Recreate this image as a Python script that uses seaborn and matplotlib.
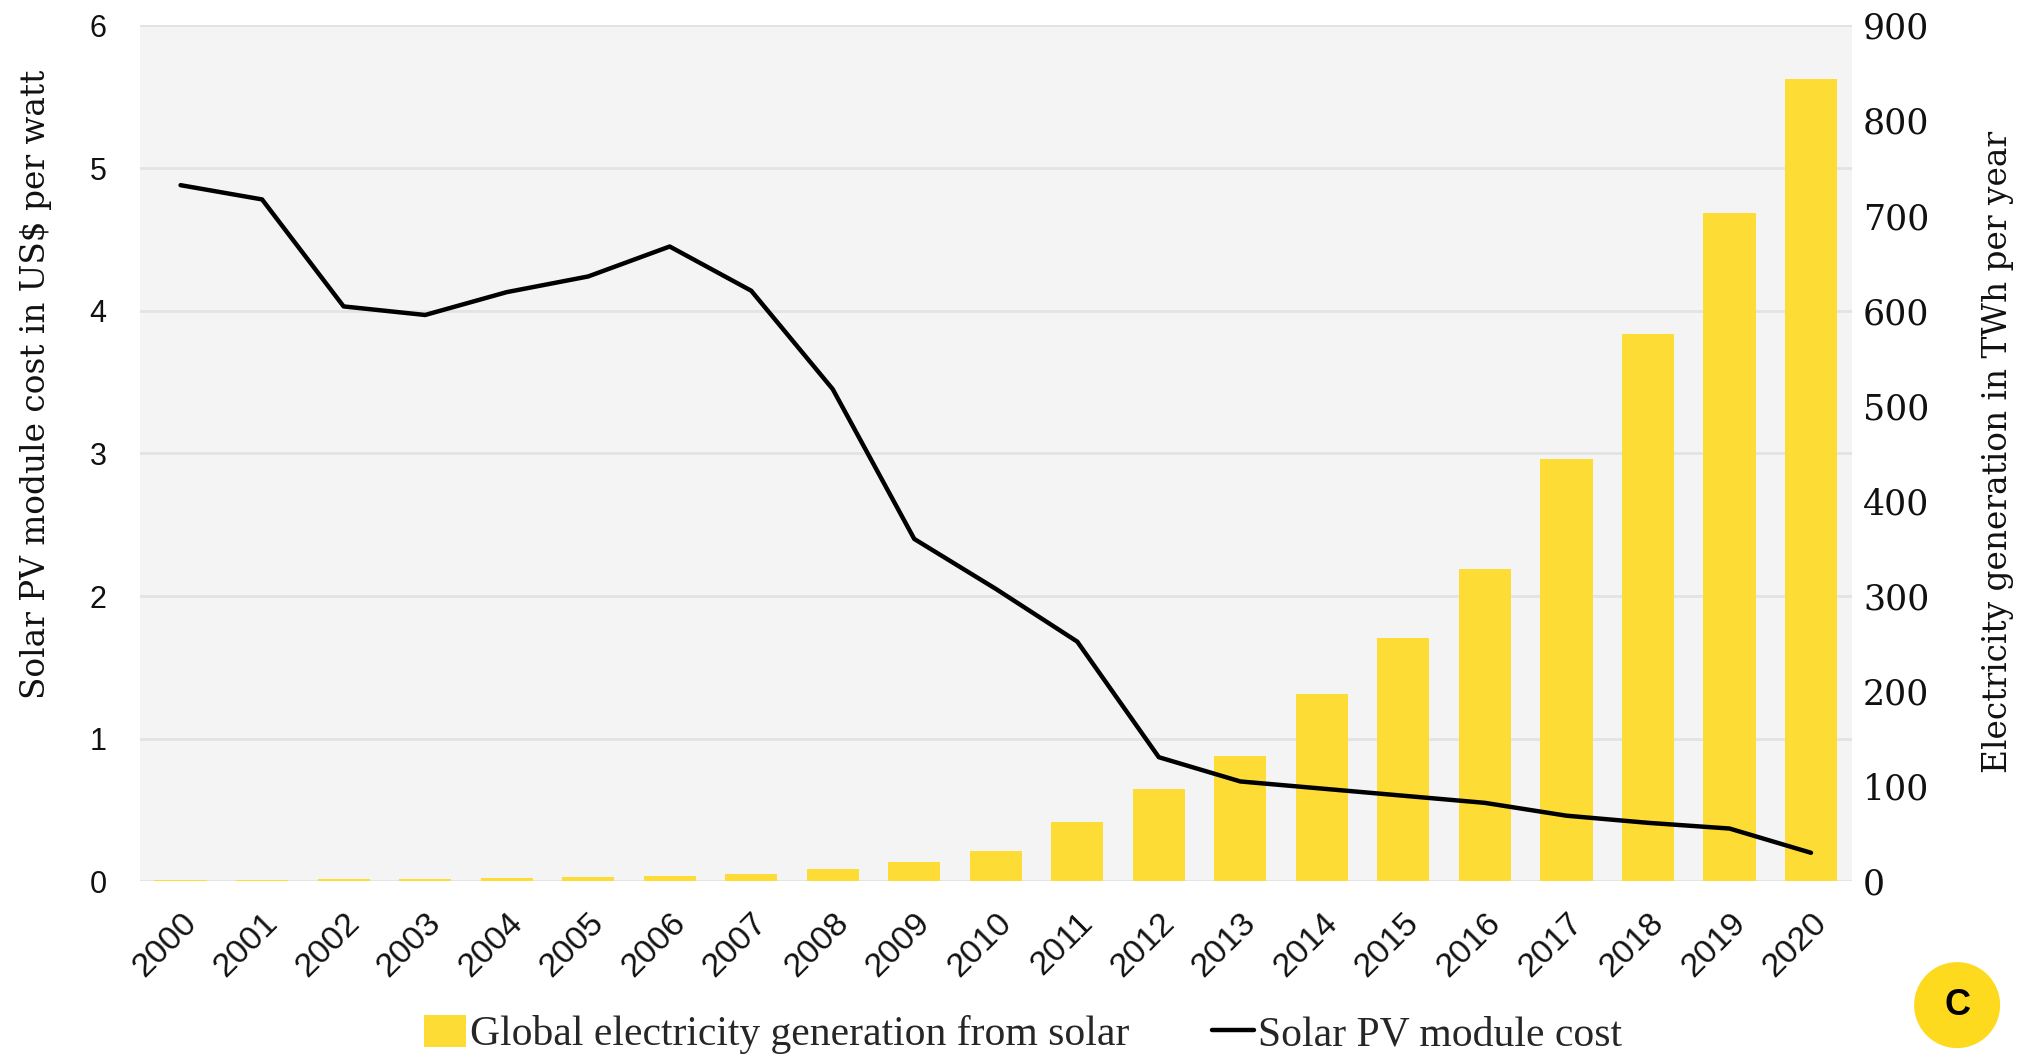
import numpy as np
import pandas as pd
import matplotlib
matplotlib.use("Agg")
import matplotlib.pyplot as plt
import seaborn as sns
from matplotlib.ticker import FixedLocator
from matplotlib.patches import Circle

years = [str(y) for y in range(2000, 2021)]
generation_twh = [1.1, 1.4, 2.0, 2.7, 3.6, 4.7, 6.1, 8.2, 12.6, 20.2, 32.2,
                  62.3, 97.0, 132.0, 197.0, 256.0, 328.0, 444.0, 575.0, 703.0, 844.0]
module_cost = [4.88, 4.78, 4.03, 3.97, 4.13, 4.24, 4.45, 4.14, 3.45, 2.40, 2.05,
               1.68, 0.87, 0.70, 0.65, 0.60, 0.55, 0.46, 0.41, 0.37, 0.20]
cost_ticks = [0, 1, 2, 3, 4, 5, 6]
gen_ticks = [0, 100, 200, 300, 400, 500, 600, 700, 800, 900]
bar_label = "Global electricity generation from solar"
line_label = "Solar PV module cost"
left_ylabel = "Solar PV module cost in US$ per watt"
right_ylabel = "Electricity generation in TWh per year"
badge_text = "C"

BAR_COLOR = "#FDDC35"
BG = "#F4F4F4"
GRID = "#E3E3E3"

df = pd.DataFrame({"year": years, "generation": generation_twh, "cost": module_cost})
df["pos"] = np.arange(len(df))

sns.set_theme(style="white")
plt.rcParams["font.family"] = ["Liberation Sans", "DejaVu Sans"]

fig = plt.figure(figsize=(20.26, 10.58), dpi=100)
ax = fig.add_axes([0.069, 0.167, 0.845, 0.809])
axb = ax.twinx()
ax.set_zorder(axb.get_zorder() + 1)
ax.patch.set_visible(False)
axb.patch.set_visible(True)
axb.set_facecolor(BG)

sns.barplot(data=df, x="year", y="generation", color=BAR_COLOR, saturation=1,
            width=0.64, ax=axb, zorder=2, linewidth=0, edgecolor="none")
sns.lineplot(data=df, x="pos", y="cost", color="black", linewidth=3.2, ax=ax,
             legend=False)

ax.set_xlim(-0.5, len(years) - 0.5)
ax.set_ylim(cost_ticks[0], cost_ticks[-1])
axb.set_ylim(gen_ticks[0], gen_ticks[-1])
ax.set_xticks(np.arange(len(years)))
ax.set_xticklabels(years, rotation=45, ha="right", rotation_mode="anchor")
ax.set_yticks(cost_ticks)
axb.set_yticks(gen_ticks)

# grid lines follow the left axis, drawn behind the bars
axb.yaxis.remove_overlapping_locs = False
scale = (gen_ticks[-1] - gen_ticks[0]) / (cost_ticks[-1] - cost_ticks[0])
axb.yaxis.set_minor_locator(FixedLocator([c * scale for c in cost_ticks]))
axb.set_axisbelow(True)
axb.grid(False, which="major")
axb.grid(True, which="minor", axis="y", color=GRID, linewidth=2)
ax.grid(False)

for s in list(ax.spines.values()) + list(axb.spines.values()):
    s.set_visible(False)

ax.tick_params(axis="y", length=0, pad=24, labelsize=22, labelcolor="#111111")
ax.tick_params(axis="x", length=0, pad=19, labelsize=24.5, labelcolor="#111111")
axb.tick_params(axis="y", which="both", length=0, pad=8, labelsize=25,
                labelcolor="#111111")
for t in axb.get_yticklabels():
    t.set_fontfamily("DejaVu Serif")

ax.set_xlabel("")
axb.set_xlabel("")
ax.set_ylabel("")
axb.set_ylabel("")
fig.text(0.018, 0.637, left_ylabel, rotation=90, ha="center", va="center",
         fontsize=23.6, family="DejaVu Serif", color="#111111")
fig.text(0.986, 0.573, right_ylabel, rotation=90, ha="center", va="center",
         fontsize=23.6, family="DejaVu Serif", color="#111111")

handles = [axb.patches[0], ax.lines[0]]
fig.legend(handles, [bar_label, line_label], loc="lower center",
           bbox_to_anchor=(0.505, -0.032), ncol=2, frameon=False,
           prop={"family": "Liberation Serif", "size": 30},
           handlelength=1.0, handleheight=0.8, handletextpad=0.1,
           columnspacing=2.0)

badge = Circle((0.966 * 20.26, 0.05 * 10.58), 0.43,
               transform=fig.dpi_scale_trans, facecolor="#FDDA1E",
               edgecolor="none")
fig.patches.append(badge)
fig.text(0.966, 0.05, badge_text, ha="center", va="center", fontsize=26,
         fontweight="bold", color="black", family="Liberation Sans")

fig.savefig("out.png", dpi=100)
